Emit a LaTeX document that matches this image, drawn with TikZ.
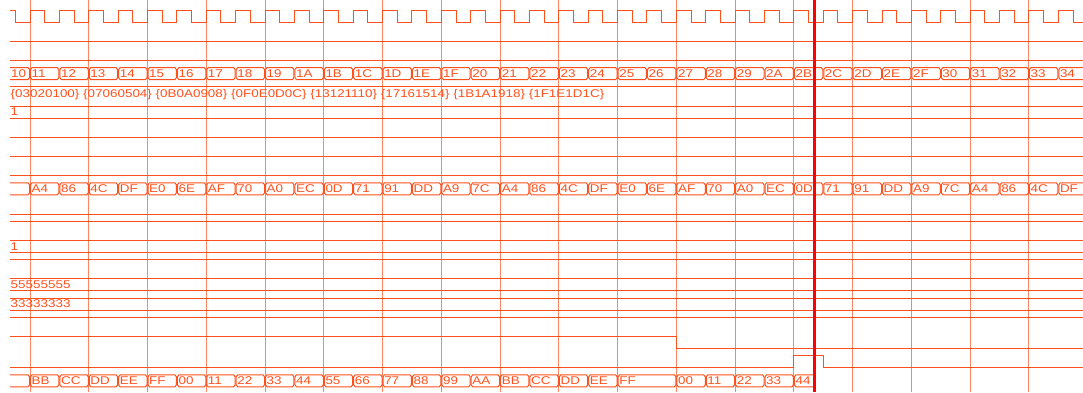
\documentclass[tikz,border=0pt]{standalone}
\usepackage{fontspec}
\newfontfamily\wavefont[FakeStretch=1.2]{Liberation Sans}
\definecolor{wave}{RGB}{255,80,28}
\definecolor{cursorred}{RGB}{255,0,0}
\tikzset{
  sig/.style={draw=wave, line width=1pt},
  gridline/.style={draw=wave, opacity=0.7, line width=1pt},
  val/.style={anchor=west, inner sep=0pt, text=wave, font=\wavefont\fontsize{11.2}{12}\selectfont},
}
% one bus value: from x #1 to x #2, top #3, bottom #4
\newcommand{\busseg}[4]{%
  \draw[sig] (#1+0.5,#3+2) -- (#1+2,#3) -- (#2-2,#3) -- (#2-0.5,#3+2)
    -- (#2-0.5,#4-2) -- (#2-2,#4) -- (#1+2,#4) -- (#1+0.5,#4-2) -- cycle;}
% first bus value, open on the left
\newcommand{\busstart}[3]{%
  \draw[sig] (10,#2) -- (#1-2,#2) -- (#1-0.5,#2+2) -- (#1-0.5,#3-2) -- (#1-2,#3) -- (10,#3);}
\begin{document}
\begin{tikzpicture}[x=1pt, y=-1pt]
  \fill[white] (0,0) rectangle (1083,392);
  \useasboundingbox (0,0) rectangle (1083,392);
  \clip (0,0) rectangle (1083,392);

  % Clock
  \draw[sig] (10,10) -- (15.31,10) -- (15.31,22) -- (30,22)
    \foreach \k in {0,...,36} { -- ++(0,-12) -- ++(14.69,0) -- ++(0,12) -- ++(14.69,0) };

  % Single bits
  \foreach \y in {41.2,60.4,137.2,156.4,175.6,214,221.2,259.6,317.2}
    \draw[sig] (10,\y) -- (1083,\y);
  \draw[sig] (10,336.4) -- (676.36,336.4) -- (676.36,348.4) -- (1083,348.4);
  \draw[sig] (10,367.6) -- (793.88,367.6) -- (793.88,355.6) -- (823.26,355.6)
    -- (823.26,367.6) -- (1083,367.6);

  % Counter bus
  \busstart{30}{67.6}{79.6}
  \node[val] (cnt) at (11,73.6) {10};
  \foreach \v [count=\k from 0] in {11,12,13,14,15,16,17,18,19,1A,1B,1C,1D,1E,1F,20,21,22,23,24,25,26,27,28,29,2A,2B,2C,2D,2E,2F,30,31,32,33,34} {
    \pgfmathsetmacro\xa{30+\k*29.38}
    \pgfmathsetmacro\xb{\xa+29.38}
    \busseg{\xa}{\xb}{67.6}{79.6}
    \node[val] (cnt\k) at (\xa+1.5,73.6) {\v};
  }

  % Array value
  \draw[sig] (10,86) -- (1083,86);
  \node[val] (arr) at (10.5,94.5) {\{03020100\} \{07060504\} \{0B0A0908\} \{0F0E0D0C\} \{13121110\} \{17161514\} \{1B1A1918\} \{1F1E1D1C\}};

  % Constant buses
  \foreach \t/\b/\v [count=\i] in {106/118/1, 240.4/252.4/1, 278.8/290.8/55555555, 298/310/33333333} {
    \draw[sig] (10,\t) -- (1083,\t) (10,\b) -- (1083,\b);
    \node[val] (const\i) at (10.5,\t/2+\b/2) {\v};
  }

  % Data bus
  \busstart{30}{182.8}{194.8}
  \foreach \v [count=\k from 0] in {A4,86,4C,DF,E0,6E,AF,70,A0,EC,0D,71,91,DD,A9,7C,A4,86,4C,DF,E0,6E,AF,70,A0,EC,0D,71,91,DD,A9,7C,A4,86,4C,DF} {
    \pgfmathsetmacro\xa{30+\k*29.38}
    \pgfmathsetmacro\xb{\xa+29.38}
    \busseg{\xa}{\xb}{182.8}{194.8}
    \node[val] (dat\k) at (\xa+1.5,188.8) {\v};
  }

  % Output bus
  \busstart{30}{374.8}{386.8}
  \foreach \v/\ka/\kb in {BB/0/1,CC/1/2,DD/2/3,EE/3/4,FF/4/5,00/5/6,11/6/7,22/7/8,33/8/9,44/9/10,55/10/11,66/11/12,77/12/13,88/13/14,99/14/15,AA/15/16,BB/16/17,CC/17/18,DD/18/19,EE/19/20,FF/20/22,00/22/23,11/23/24,22/24/25,33/25/26} {
    \pgfmathsetmacro\xa{30+\ka*29.38}
    \pgfmathsetmacro\xb{30+\kb*29.38}
    \busseg{\xa}{\xb}{374.8}{386.8}
    \node[val] (out\ka) at (\xa+1.5,380.8) {\v};
  }
  \draw[sig] (814,374.8) -- (795.9,374.8) -- (794.4,376.8) -- (794.4,384.8)
    -- (795.9,386.8) -- (814,386.8);
  \node[val] (outlast) at (795.4,380.8) {44};

  % Grid
  \foreach \g in {0,...,17}
    \draw[gridline] (30+\g*58.76,0) -- (30+\g*58.76,392);

  % Cursor
  \draw[cursorred, line width=3pt] (814,0) -- (814,392);
\end{tikzpicture}
\end{document}
